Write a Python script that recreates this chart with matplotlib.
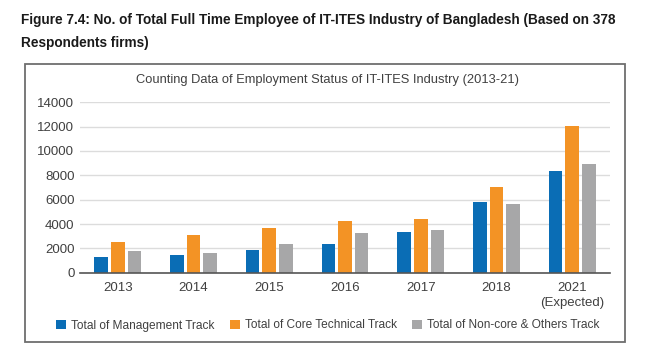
import matplotlib.pyplot as plt
import numpy as np
from matplotlib.patches import Rectangle

# values
years = ['2013', '2014', '2015', '2016', '2017', '2018', '2021\n(Expected)']
management = [1290, 1425, 1835, 2355, 3340, 5810, 8355]
core_technical = [2520, 3070, 3700, 4250, 4385, 7015, 12055]
non_core = [1750, 1615, 2330, 3260, 3510, 5645, 8930]

series_names = ['Total of Management Track', 'Total of Core Technical Track',
                'Total of Non-core & Others Track']
colors = ['#0a6db5', '#f39325', '#a7a7a8']

text_color = '#404040'
plt.rcParams['font.family'] = ['Liberation Sans', 'DejaVu Sans']

W, H = 656, 353
fig = plt.figure(figsize=(W / 100, H / 100), dpi=100)

# figure caption
fig.text(21 / W, 1 - 20 / H,
         'Figure 7.4: No. of Total Full Time Employee of IT-ITES Industry of Bangladesh (Based on 378',
         fontsize=9.8, fontweight='bold', color='#1a1a1a', va='center', ha='left')
fig.text(21 / W, 1 - 43 / H, 'Respondents firms)',
         fontsize=9.8, fontweight='bold', color='#1a1a1a', va='center', ha='left')

# frame around the chart
fig.patches.append(Rectangle((25 / W, 1 - 342 / H), 600 / W, 278 / H,
                             transform=fig.transFigure, fill=False,
                             edgecolor='#6e6e6e', linewidth=1.3))

ax = fig.add_axes([80 / W, 1 - 272.7 / H, 530 / W, 170.4 / H])

x = np.arange(len(years))
bw = 0.18
step = 0.22
for i, (vals, name, c) in enumerate(zip([management, core_technical, non_core], series_names, colors)):
    ax.bar(x + (i - 1) * step, vals, width=bw, color=c, label=name, zorder=3)

ax.set_xlim(-0.5, len(years) - 0.5)
ax.set_ylim(0, 14000)
ax.set_yticks(range(0, 14001, 2000))
ax.set_xticks(x)
ax.set_xticklabels(years, linespacing=1.3)
ax.tick_params(axis='both', length=0, labelsize=9.5, colors=text_color)
ax.tick_params(axis='y', pad=4)
ax.tick_params(axis='x', pad=7)
ax.grid(axis='y', color='#dcdcdc', linewidth=1, zorder=0)
for s in ['top', 'right', 'left']:
    ax.spines[s].set_visible(False)
ax.spines['bottom'].set_color('#555555')
ax.spines['bottom'].set_linewidth(1.2)
ax.spines['bottom'].set_zorder(4)

fig.text(327 / W, 1 - 80 / H,
         'Counting Data of Employment Status of IT-ITES Industry (2013-21)',
         fontsize=9.3, color=text_color, ha='center', va='center')

fig.legend(loc='center left', bbox_to_anchor=(56 / W, 1 - 325.5 / H), ncol=3,
           frameon=False, fontsize=8.6, labelcolor=text_color,
           handlelength=0.85, handleheight=0.85, handletextpad=0.42,
           columnspacing=1.25, borderaxespad=0, borderpad=0)

fig.savefig('out.png', dpi=100)
